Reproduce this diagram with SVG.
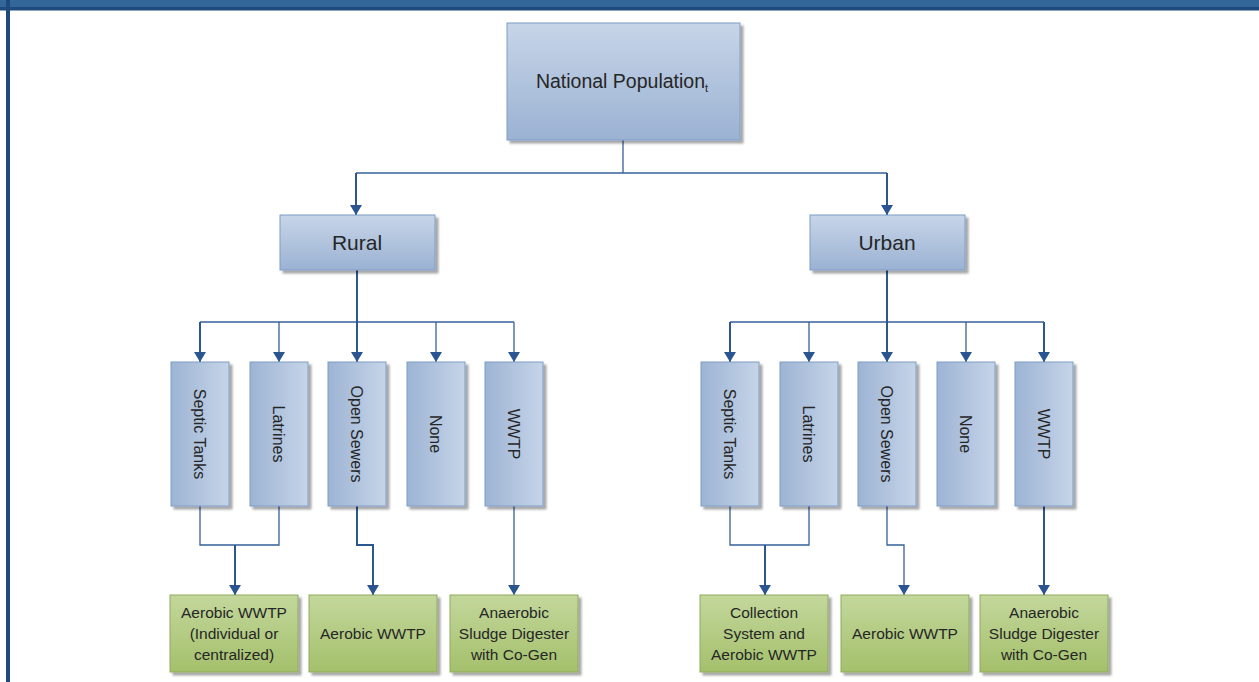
<svg xmlns="http://www.w3.org/2000/svg" width="1259" height="682" viewBox="0 0 1259 682">
<defs>
<linearGradient id="gV" x1="0" y1="0" x2="0" y2="1">
<stop offset="0" stop-color="#c7d5e8"/><stop offset="1" stop-color="#9bb2d3"/>
</linearGradient>
<linearGradient id="gH" x1="0" y1="0" x2="1" y2="0">
<stop offset="0" stop-color="#9db4d4"/><stop offset="1" stop-color="#c6d4e8"/>
</linearGradient>
<linearGradient id="gG" x1="0" y1="0" x2="0" y2="1">
<stop offset="0" stop-color="#c3d79c"/><stop offset="1" stop-color="#a4c06b"/>
</linearGradient>
<filter id="sh" x="-10%" y="-10%" width="130%" height="130%">
<feDropShadow dx="3" dy="3" stdDeviation="1.2" flood-color="#000" flood-opacity="0.35"/>
</filter>
<marker id="ah" viewBox="0 0 10 12" refX="10" refY="6" markerWidth="10" markerHeight="12" markerUnits="userSpaceOnUse" orient="auto">
<path d="M0,0 L10,6 L0,12 z" fill="#2a5590"/>
</marker>
<style>
.b{fill:url(#gV);stroke:#7f9cc6;stroke-width:1;filter:url(#sh)}
.v{fill:url(#gH);stroke:#7f9cc6;stroke-width:1;filter:url(#sh)}
.g{fill:url(#gG);stroke:#8eab5c;stroke-width:1;filter:url(#sh)}
.t{font-family:"Liberation Sans",Arial,sans-serif;fill:#262626;text-anchor:middle}
.s{font-size:15.5px}
.r{font-size:16px}
.c{fill:none;stroke:#36609a;stroke-width:1.3}
.k{fill:none;stroke:#2c5692;stroke-width:2}
</style>
</defs>
<rect x="0" y="0" width="1259" height="682" fill="#fff"/>
<rect x="0" y="0" width="1259" height="7" fill="#336699"/>
<rect x="0" y="7" width="1259" height="3.5" fill="#1f4a7e"/>
<rect x="6" y="0" width="4" height="682" fill="#1f4a7e"/>

<g id="connectors">
<path class="c" d="M623,140 V173 M356,173 H887"/>
<path class="k" d="M356,173 V215" marker-end="url(#ah)"/>
<path class="k" d="M887,173 V215" marker-end="url(#ah)"/>

<path class="c" d="M200,322 H514"/>
<path class="k" d="M357,270 V362" marker-end="url(#ah)"/>
<path class="k" d="M200,322 V362" marker-end="url(#ah)"/>
<path class="c" d="M279,322 V362" marker-end="url(#ah)"/>
<path class="c" d="M436,322 V362" marker-end="url(#ah)"/>
<path class="c" d="M514,322 V362" marker-end="url(#ah)"/>

<path class="c" d="M730,322 H1044"/>
<path class="k" d="M887,270 V362" marker-end="url(#ah)"/>
<path class="k" d="M730,322 V362" marker-end="url(#ah)"/>
<path class="c" d="M809,322 V362" marker-end="url(#ah)"/>
<path class="c" d="M966,322 V362" marker-end="url(#ah)"/>
<path class="k" d="M1044,322 V362" marker-end="url(#ah)"/>

<path class="c" d="M200,506 V545 H279 V506"/>
<path class="k" d="M235,545 V595" marker-end="url(#ah)"/>
<path class="k" d="M357,506 V545 H373 V595" marker-end="url(#ah)"/>
<path class="c" d="M514,506 V595" marker-end="url(#ah)"/>

<path class="c" d="M730,506 V545 H809 V506"/>
<path class="k" d="M765,545 V595" marker-end="url(#ah)"/>
<path class="c" d="M887,506 V545 H904 V595" marker-end="url(#ah)"/>
<path class="k" d="M1044,506 V595" marker-end="url(#ah)"/>
</g>

<g id="national">
<rect class="b" x="507" y="23" width="233" height="117"/>
<text class="t" x="622" y="88" font-size="19.5">National Population<tspan font-size="11" dy="4">t</tspan></text>
</g>
<g id="rural">
<rect class="b" x="280" y="215" width="155" height="55"/>
<text class="t" x="357" y="250" font-size="21">Rural</text>
</g>
<g id="urban">
<rect class="b" x="810" y="215" width="155" height="55"/>
<text class="t" x="887" y="250" font-size="21">Urban</text>
</g>

<g id="r-septic"><rect class="v" x="171" y="362" width="58" height="144"/><text class="t r" transform="translate(200,434) rotate(90)" dy="6">Septic Tanks</text></g>
<g id="r-latrines"><rect class="v" x="250" y="362" width="58" height="144"/><text class="t r" transform="translate(279,434) rotate(90)" dy="6">Latrines</text></g>
<g id="r-open"><rect class="v" x="328" y="362" width="58" height="144"/><text class="t r" transform="translate(357,434) rotate(90)" dy="6">Open Sewers</text></g>
<g id="r-none"><rect class="v" x="407" y="362" width="58" height="144"/><text class="t r" transform="translate(436,434) rotate(90)" dy="6">None</text></g>
<g id="r-wwtp"><rect class="v" x="485" y="362" width="58" height="144"/><text class="t r" transform="translate(514,434) rotate(90)" dy="6">WWTP</text></g>

<g id="u-septic"><rect class="v" x="701" y="362" width="58" height="144"/><text class="t r" transform="translate(730,434) rotate(90)" dy="6">Septic Tanks</text></g>
<g id="u-latrines"><rect class="v" x="780" y="362" width="58" height="144"/><text class="t r" transform="translate(809,434) rotate(90)" dy="6">Latrines</text></g>
<g id="u-open"><rect class="v" x="858" y="362" width="58" height="144"/><text class="t r" transform="translate(887,434) rotate(90)" dy="6">Open Sewers</text></g>
<g id="u-none"><rect class="v" x="937" y="362" width="58" height="144"/><text class="t r" transform="translate(966,434) rotate(90)" dy="6">None</text></g>
<g id="u-wwtp"><rect class="v" x="1015" y="362" width="58" height="144"/><text class="t r" transform="translate(1044,434) rotate(90)" dy="6">WWTP</text></g>

<g id="r-aerobic-ind"><rect class="g" x="170" y="595" width="128" height="77"/>
<text class="t s" x="234" y="618">Aerobic WWTP</text>
<text class="t s" x="234" y="639">(Individual or</text>
<text class="t s" x="234" y="660">centralized)</text></g>
<g id="r-aerobic"><rect class="g" x="309" y="595" width="128" height="77"/>
<text class="t s" x="373" y="639">Aerobic WWTP</text></g>
<g id="r-anaerobic"><rect class="g" x="450" y="595" width="128" height="77"/>
<text class="t s" x="514" y="618">Anaerobic</text>
<text class="t s" x="514" y="639">Sludge Digester</text>
<text class="t s" x="514" y="660">with Co-Gen</text></g>

<g id="u-collection"><rect class="g" x="700" y="595" width="128" height="77"/>
<text class="t s" x="764" y="618">Collection</text>
<text class="t s" x="764" y="639">System and</text>
<text class="t s" x="764" y="660">Aerobic WWTP</text></g>
<g id="u-aerobic"><rect class="g" x="841" y="595" width="128" height="77"/>
<text class="t s" x="905" y="639">Aerobic WWTP</text></g>
<g id="u-anaerobic"><rect class="g" x="980" y="595" width="128" height="77"/>
<text class="t s" x="1044" y="618">Anaerobic</text>
<text class="t s" x="1044" y="639">Sludge Digester</text>
<text class="t s" x="1044" y="660">with Co-Gen</text></g>
</svg>
